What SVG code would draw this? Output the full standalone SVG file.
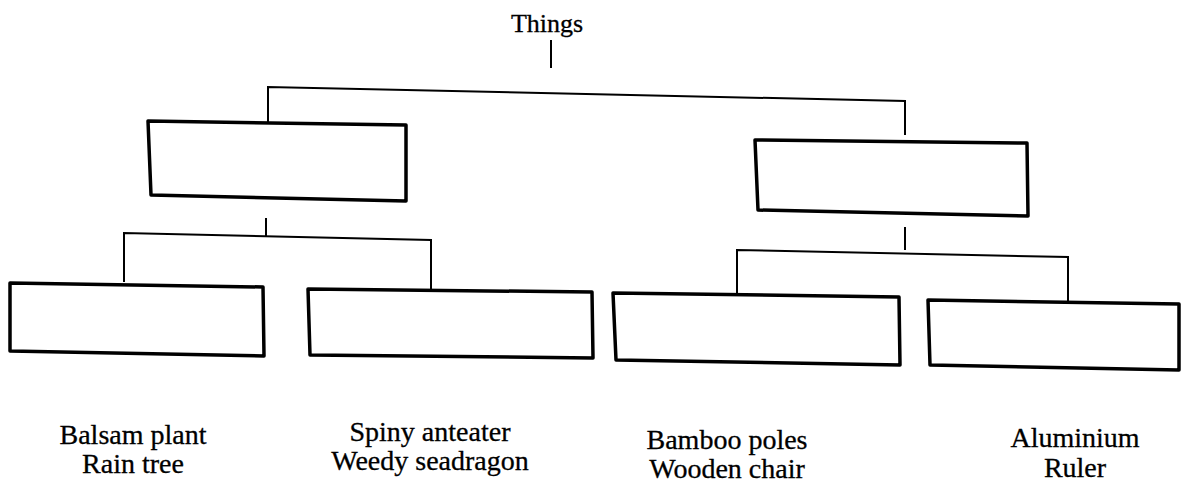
<svg xmlns="http://www.w3.org/2000/svg" width="1181" height="495" viewBox="0 0 1181 495">
<style>
.box{fill:none;stroke:#000;stroke-width:3.5;stroke-linejoin:round}
.con{fill:none;stroke:#000;stroke-width:2}
text{font-family:"Liberation Serif","Times New Roman",serif;fill:#000;stroke:#000;stroke-width:0.3;text-anchor:middle}
.t{font-size:26px}
.lbl{font-size:28px}
</style>
<rect width="1181" height="495" fill="#fff"/>
<g id="connectors">
<path class="con" d="M551,40 V68"/>
<path class="con" d="M268,122 V87 L905,101 V135"/>
<path class="con" d="M266,218 V236"/>
<path class="con" d="M124,282 V233 L431,240 V289"/>
<path class="con" d="M905,227 V250"/>
<path class="con" d="M737,293 V250 L1068,257 V302"/>
</g>
<g id="root"><text class="t" x="547" y="32">Things</text></g>
<g id="boxA"><polygon class="box" points="148,121 406,125 406,201 151,195"/></g>
<g id="boxB"><polygon class="box" points="755,140 1027,143 1028,216 758,210"/></g>
<g id="boxC"><polygon class="box" points="10,283 263,287 264,356 10,351"/></g>
<g id="boxD"><polygon class="box" points="308,289 592,292 593,358 310,355"/></g>
<g id="boxE"><polygon class="box" points="613,293 899,297 900,365 616,360"/></g>
<g id="boxF"><polygon class="box" points="928,300 1179,304 1179,370 930,365"/></g>
<g id="labelC"><text class="lbl" x="133" y="444">Balsam plant</text><text class="lbl" x="133" y="473">Rain tree</text></g>
<g id="labelD"><text class="lbl" x="430" y="441">Spiny anteater</text><text class="lbl" x="430" y="470">Weedy seadragon</text></g>
<g id="labelE"><text class="lbl" x="727" y="449">Bamboo poles</text><text class="lbl" x="727" y="478">Wooden chair</text></g>
<g id="labelF"><text class="lbl" x="1075" y="447">Aluminium</text><text class="lbl" x="1075" y="477">Ruler</text></g>
</svg>
